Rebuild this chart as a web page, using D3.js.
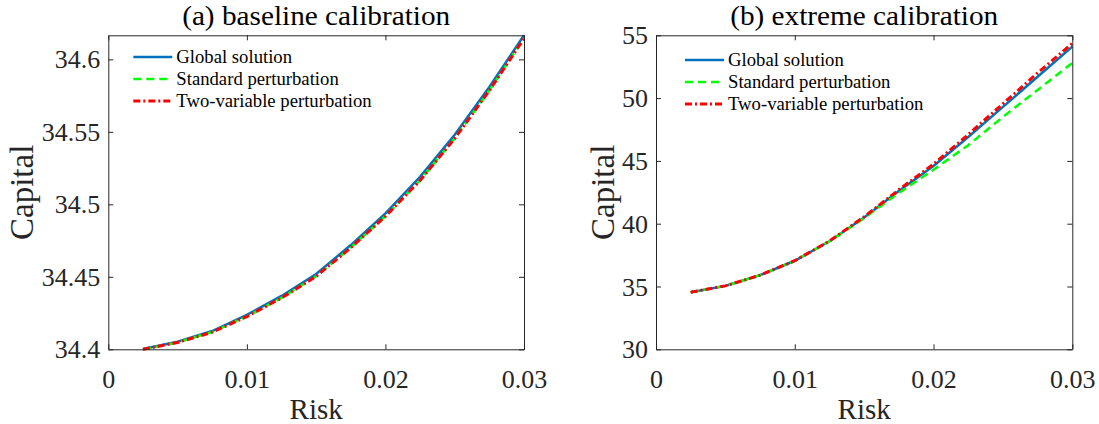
<!DOCTYPE html>
<html lang="en">
<head>
    <meta charset="utf-8">
    <title>Capital vs Risk</title>
    <script src="https://cdn.jsdelivr.net/npm/d3@7"></script>
    <style>
        body { margin: 0; background: #fff; }
        svg { display: block; }
        svg text { font-family: "Liberation Serif", "Times New Roman", serif; }
    </style>
</head>
<body>
    <svg id="chart" width="1099" height="424"></svg>

    <script>
        // risk grid shared by both panels
        const risk = [0.0025, 0.005, 0.0075, 0.01, 0.0125, 0.015, 0.0175, 0.02, 0.0225, 0.025, 0.0275, 0.03];

        // (a) baseline calibration
        const baseGlobal   = [34.4002, 34.4052, 34.4126, 34.4237, 34.4368, 34.4519, 34.4719, 34.4938, 34.5190, 34.5480, 34.5810, 34.6166];
        const baseStandard = [34.4000, 34.4048, 34.4119, 34.4227, 34.4355, 34.4504, 34.4702, 34.4918, 34.5166, 34.5455, 34.5786, 34.6146];
        const baseTwoVar   = [34.4000, 34.4047, 34.4118, 34.4226, 34.4354, 34.4503, 34.4701, 34.4917, 34.5165, 34.5454, 34.5785, 34.6145];

        // (b) extreme calibration
        const extGlobal   = [34.55, 35.05, 35.90, 37.05, 38.60, 40.50, 42.60, 44.60, 46.90, 49.30, 51.70, 54.10];
        const extStandard = [34.55, 35.05, 35.90, 37.05, 38.60, 40.45, 42.45, 44.30, 46.25, 48.50, 50.65, 52.80];
        const extTwoVar   = [34.55, 35.05, 35.90, 37.05, 38.62, 40.55, 42.70, 44.75, 47.10, 49.55, 52.00, 54.35];

        const xTicks = [0, 0.01, 0.02, 0.03];
        const xTickLabels = ["0", "0.01", "0.02", "0.03"];
        const baseYTicks = [34.4, 34.45, 34.5, 34.55, 34.6];
        const baseYTickLabels = ["34.4", "34.45", "34.5", "34.55", "34.6"];
        const extYTicks = [30, 35, 40, 45, 50, 55];
        const extYTickLabels = ["30", "35", "40", "45", "50", "55"];

        const seriesNames = ["Global solution", "Standard perturbation", "Two-variable perturbation"];
        const seriesColors = ["#0072BD", "#00FF00", "#FF0000"];
        const seriesDash = [null, "8,5", "7,3,2,3"];
        const seriesWidth = [2.5, 2.5, 3];

        const svg = d3.select("#chart");
        svg.append("rect").attr("width", 1099).attr("height", 424).attr("fill", "#fff");

        const axisColor = "#262626";
        const serif = '"Liberation Serif", "Times New Roman", serif';

        function drawPanel(opts) {
            const { left, right, top, bottom } = opts;
            const x = d3.scaleLinear().domain([0, 0.03]).range([left, right]);
            const y = d3.scaleLinear().domain(opts.yDomain).range([bottom, top]);
            const g = svg.append("g");

            // curves (drawn first so the box sits on top)
            const line = d3.line().x((d, i) => x(risk[i])).y(d => y(d));
            opts.series.forEach((vals, k) => {
                g.append("path")
                    .datum(vals)
                    .attr("d", line)
                    .attr("fill", "none")
                    .attr("stroke", seriesColors[k])
                    .attr("stroke-width", seriesWidth[k])
                    .attr("stroke-dasharray", seriesDash[k]);
            });

            const fmtX = d => xTickLabels[xTicks.indexOf(d)];
            const fmtY = d => opts.yLabels[opts.yTicks.indexOf(d)];

            // bottom / left axes with labels, ticks pointing inward
            const bx = g.append("g").attr("transform", `translate(0,${bottom})`)
                .call(d3.axisBottom(x).tickValues(xTicks).tickFormat(fmtX).tickSizeInner(-5).tickSizeOuter(0).tickPadding(20));
            const ly = g.append("g").attr("transform", `translate(${left},0)`)
                .call(d3.axisLeft(y).tickValues(opts.yTicks).tickFormat(fmtY).tickSizeInner(-5).tickSizeOuter(0).tickPadding(8));
            // top / right mirrors, no labels
            const tx = g.append("g").attr("transform", `translate(0,${top})`)
                .call(d3.axisTop(x).tickValues(xTicks).tickFormat("").tickSizeInner(-5).tickSizeOuter(0));
            const ry = g.append("g").attr("transform", `translate(${right},0)`)
                .call(d3.axisRight(y).tickValues(opts.yTicks).tickFormat("").tickSizeInner(-5).tickSizeOuter(0));

            [bx, ly, tx, ry].forEach(a => {
                a.select(".domain").attr("stroke", axisColor).attr("stroke-width", 1);
                a.selectAll(".tick line").attr("stroke", axisColor);
                a.selectAll(".tick text")
                    .attr("font-family", serif)
                    .attr("font-size", 26)
                    .attr("fill", axisColor);
            });
            bx.selectAll(".tick text").attr("dy", "0.71em");
            ly.selectAll(".tick text").attr("dy", "0.33em");

            // title and axis labels
            g.append("text")
                .attr("x", (left + right) / 2).attr("y", 25)
                .attr("text-anchor", "middle").attr("font-size", 28).attr("fill", "#000")
                .attr("textLength", 268).attr("lengthAdjust", "spacingAndGlyphs")
                .text(opts.title);
            g.append("text")
                .attr("x", (left + right) / 2).attr("y", 419)
                .attr("text-anchor", "middle").attr("font-size", 29).attr("fill", axisColor)
                .text("Risk");
            g.append("text")
                .attr("transform", `translate(${opts.yLabelX},${(top + bottom) / 2}) rotate(-90)`)
                .attr("text-anchor", "middle").attr("font-size", 33).attr("fill", axisColor)
                .text("Capital");

            // legend
            const leg = g.append("g").attr("transform", `translate(${left + opts.legDx},${opts.legY})`);
            seriesNames.forEach((name, k) => {
                const row = leg.append("g").attr("transform", `translate(0,${k * 22})`);
                row.append("line")
                    .attr("x1", 0).attr("x2", 39).attr("y1", 0).attr("y2", 0)
                    .attr("stroke", seriesColors[k])
                    .attr("stroke-width", seriesWidth[k])
                    .attr("stroke-dasharray", seriesDash[k]);
                row.append("text")
                    .attr("x", 43).attr("y", 0).attr("dy", "0.33em")
                    .attr("font-size", 18.7).attr("fill", "#000")
                    .text(name);
            });
        }

        drawPanel({
            left: 108.3, right: 524, top: 35.3, bottom: 349.3,
            yDomain: [34.4, 34.6166], yTicks: baseYTicks, yLabels: baseYTickLabels,
            series: [baseGlobal, baseStandard, baseTwoVar],
            title: "(a) baseline calibration", yLabelX: 33, legDx: 25, legY: 57
        });

        drawPanel({
            left: 656, right: 1072.3, top: 35.3, bottom: 349.3,
            yDomain: [30, 55], yTicks: extYTicks, yLabels: extYTickLabels,
            series: [extGlobal, extStandard, extTwoVar],
            title: "(b) extreme calibration", yLabelX: 614, legDx: 29, legY: 60
        });
    </script>
</body>
</html>
